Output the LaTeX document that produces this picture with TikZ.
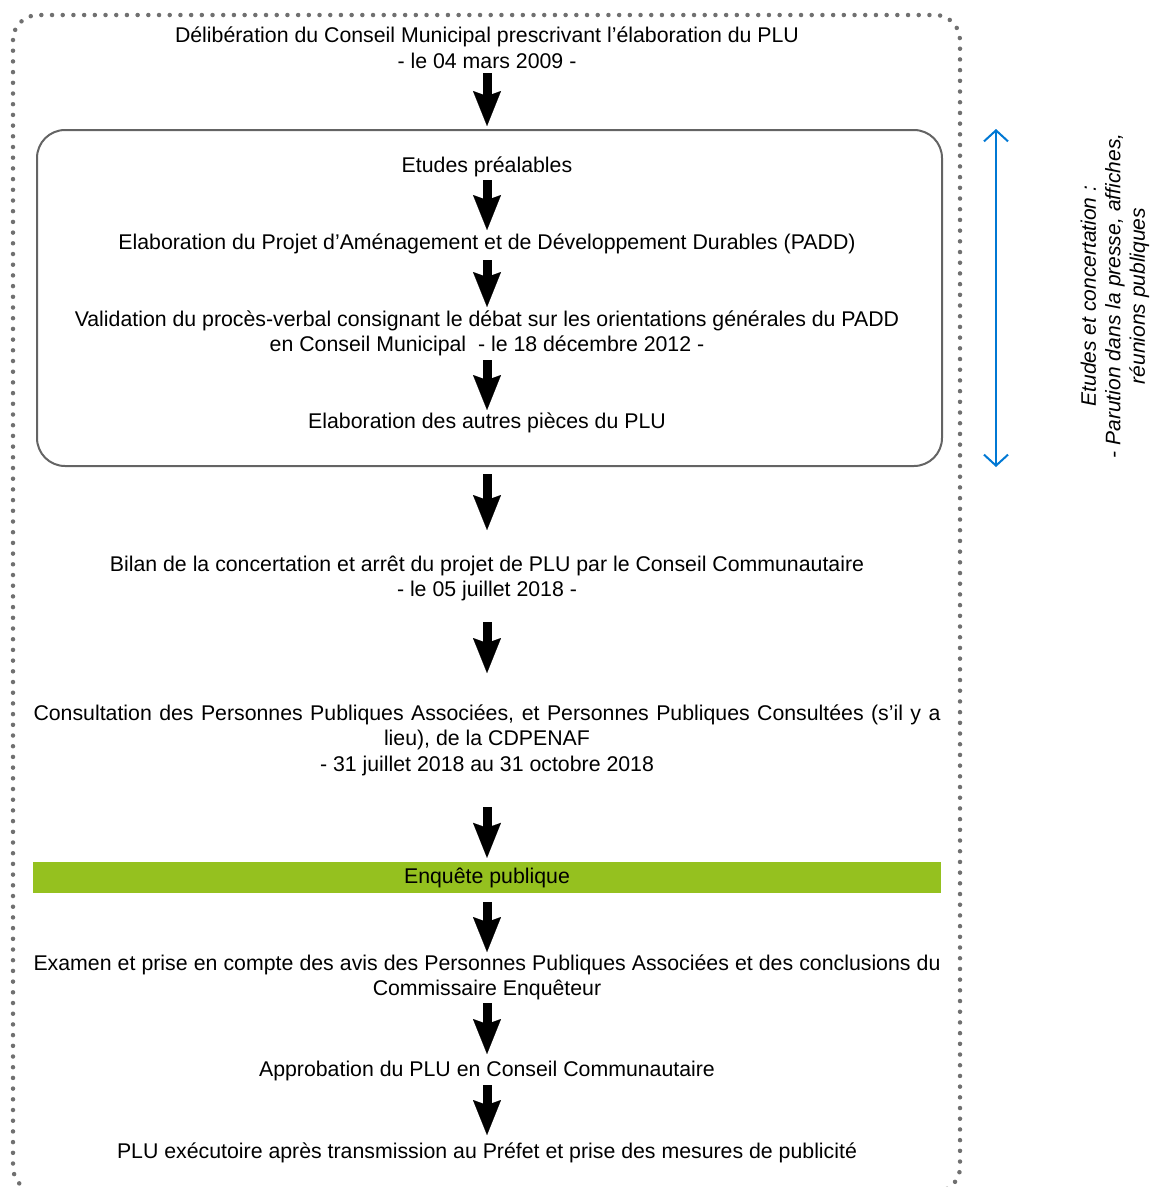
\documentclass[tikz,border=0pt]{standalone}
\usepackage{fontspec}
\setmainfont{Liberation Sans}
\usetikzlibrary{arrows.meta,calc}
\definecolor{framegray}{RGB}{112,112,112}
\definecolor{boxgray}{RGB}{100,100,100}
\definecolor{barGreen}{RGB}{149,193,31}
\definecolor{arrBlue}{RGB}{0,120,212}
\newcommand{\mysz}{\fontsize{21.3pt}{25.5pt}\selectfont}
\newcommand{\sidesz}{\fontsize{21pt}{24.5pt}\selectfont}
\begin{document}
\begin{tikzpicture}[x=1pt,y=-1pt,
  txt/.style={font=\mysz, align=center, inner sep=0pt},
  blk/.style={line width=9pt, -{Stealth[length=35pt,width=28pt,inset=5pt,line width=0.1pt]}},
  bluearr/.style={arrBlue, line width=2pt, {Straight Barb[length=11pt,width=24pt]}-{Straight Barb[length=11pt,width=24pt]}}]
\useasboundingbox (0,0) rectangle (1151,1187);
% dotted outer frame
\draw[framegray, line width=4.5pt, dash pattern=on 0pt off 10.7pt, line cap=round, rounded corners=25pt] (13,15) rectangle (960,1192);

\node[txt] (n1) at (487,48) {Délibération du Conseil Municipal prescrivant l’élaboration du PLU\\- le 04 mars 2009 -};
\node[draw=boxgray, line width=2pt, rounded corners=28pt, minimum width=905pt, minimum height=336pt, inner sep=0pt] (box) at (489.5,298) {};
\node[txt] (n2) at (487,167) {Etudes préalables};
\node[txt] (n3) at (487,244) {Elaboration du Projet d’Aménagement et de Développement Durables (PADD)};
\node[txt] (n4) at (487,333.5) {Validation du procès-verbal consignant le débat sur les orientations générales du PADD\\en Conseil Municipal \ - le 18 décembre 2012 -};
\node[txt] (n5) at (487,423) {Elaboration des autres pièces du PLU};
\node[txt] (n6) at (487,578.5) {Bilan de la concertation et arrêt du projet de PLU par le Conseil Communautaire\\- le 05 juillet 2018 -};
\node[txt] (n7) at (487,740) {\makebox[907pt][s]{Consultation des Personnes Publiques Associées, et Personnes Publiques Consultées (s’il y a}\\lieu), de la CDPENAF\\- 31 juillet 2018 au 31 octobre 2018};
\node[txt, fill=barGreen, minimum width=908pt, minimum height=31pt] (bar) at (487,877.5) {\raisebox{-2.5pt}{Enquête publique}};
\node[txt] (n9) at (487,977.5) {\makebox[907pt][s]{Examen et prise en compte des avis des Personnes Publiques Associées et des conclusions du}\\Commissaire Enquêteur};
\node[txt] (n10) at (487,1071) {Approbation du PLU en Conseil Communautaire};
\node[txt] (n11) at (487,1153) {PLU exécutoire après transmission au Préfet et prise des mesures de publicité};

\node[txt, font=\sidesz\itshape, rotate=90] (side) at (1115,296) {Etudes et concertation :\\\makebox[325pt][s]{- Parution dans la presse, affiches,}\\réunions publiques};

% arrows
\draw[blk] ($(n1.center)+(0,25)$) -- ($(n1.center|-box.north)+(0,-3)$);
\draw[blk] ($(n2.center)+(0,13)$) -- ($(n3.center)+(0,-14)$);
\draw[blk] ($(n3.center)+(0,16)$) -- ($(n4.center)+(0,-26.5)$);
\draw[blk] ($(n4.center)+(0,26.5)$) -- ($(n5.center)+(0,-13)$);
\draw[blk] ($(n6.center|-box.south)+(0,7)$) -- ($(n6.center)+(0,-48.5)$);
\draw[blk] ($(n6.center)+(0,43.5)$) -- ($(n7.center)+(0,-67)$);
\draw[blk] ($(n7.center)+(0,67)$) -- ($(bar.north)+(0,-4)$);
\draw[blk] ($(bar.south)+(0,9)$) -- ($(n9.center)+(0,-25.5)$);
\draw[blk] ($(n9.center)+(0,25.5)$) -- ($(n10.center)+(0,-17)$);
\draw[blk] ($(n10.center)+(0,14)$) -- ($(n11.center)+(0,-18)$);

\draw[bluearr] ($(box.north east)+(53,0)$) -- ($(box.south east)+(53,0)$);
\end{tikzpicture}
\end{document}
